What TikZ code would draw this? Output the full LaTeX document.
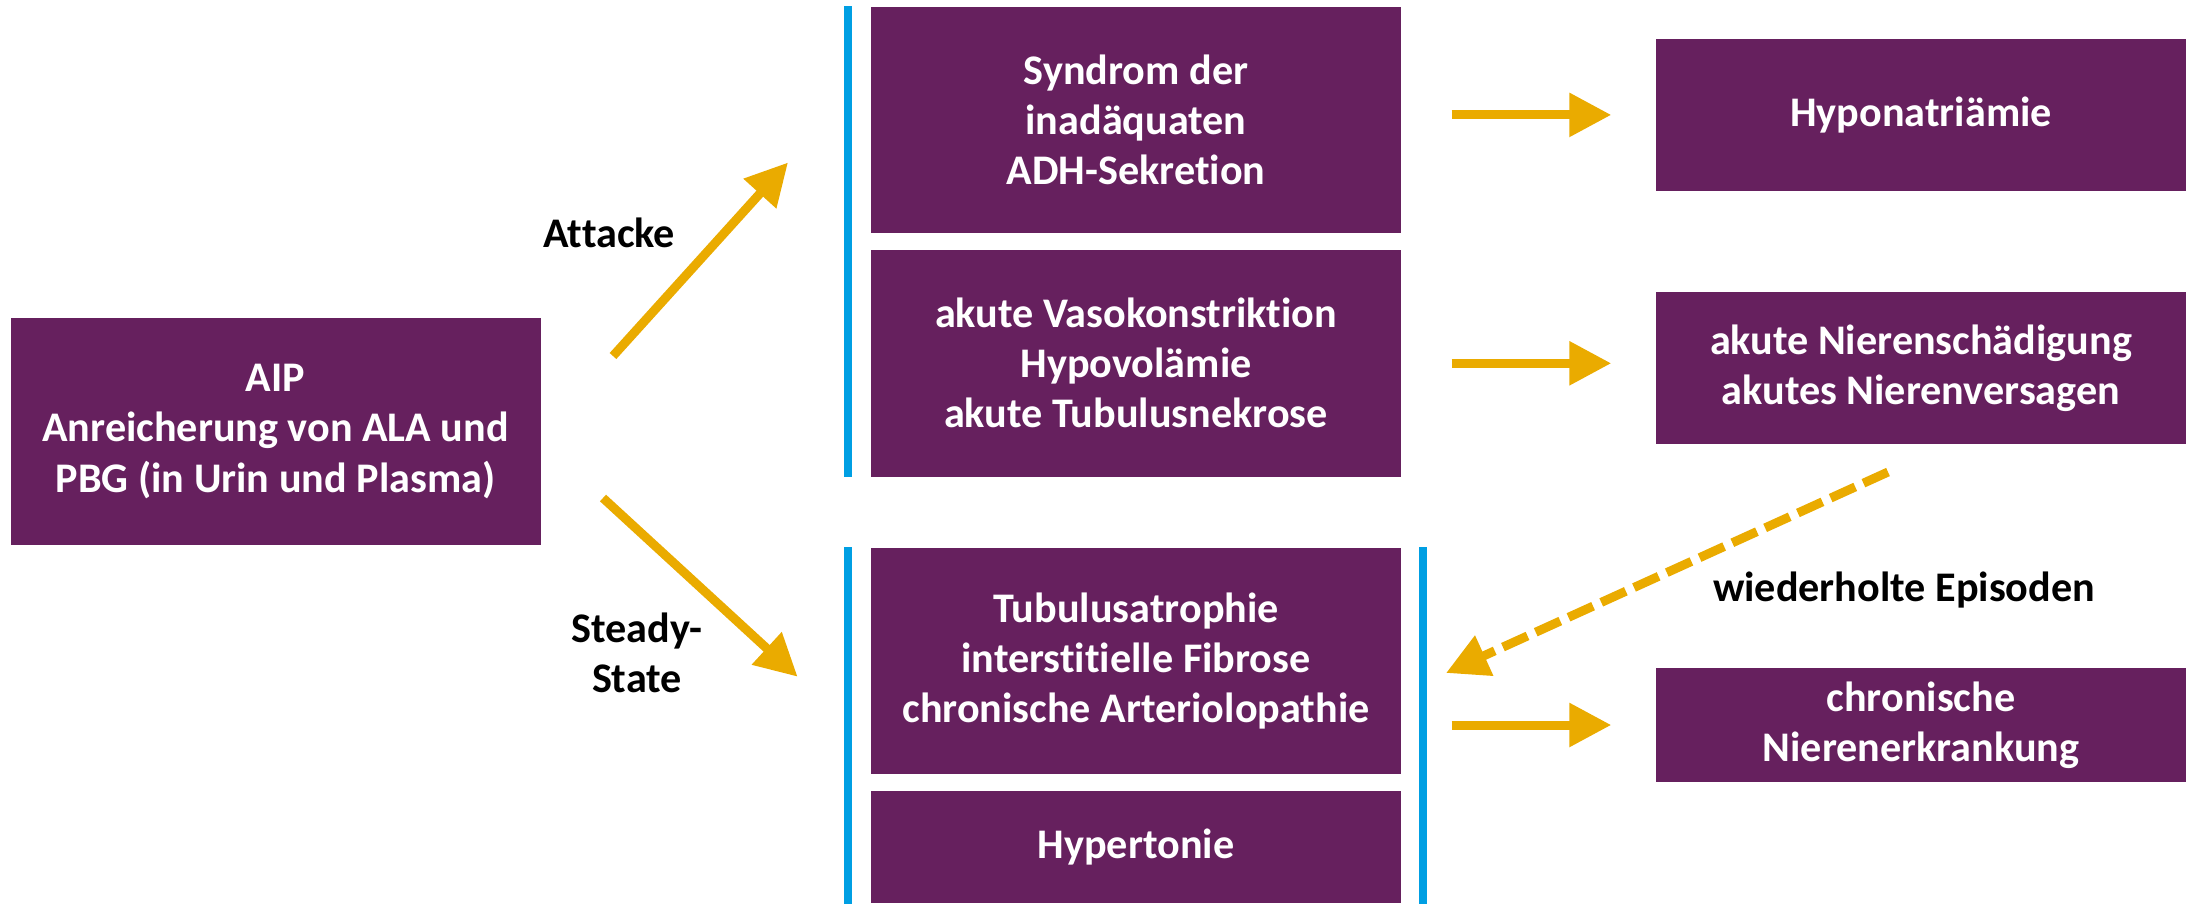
\documentclass[tikz,border=0pt]{standalone}
\usepackage{fontspec}
\setmainfont{Carlito}[Ligatures=NoCommon]
\usetikzlibrary{arrows.meta}
\definecolor{lila}{HTML}{66205E}
\definecolor{gold}{HTML}{EAAB00}
\definecolor{cyan}{HTML}{009FE3}

\begin{document}
\begin{tikzpicture}[font=\fontsize{12}{14.23}\selectfont\bfseries,
 box/.style={fill=lila,text=white,align=center,inner sep=0pt,minimum width=5.3cm},
 lbl/.style={text=black,align=center,inner sep=0pt},
 arr/.style={draw=gold,line width=.09cm,-{Triangle[length=.42cm,width=.42cm]}},
 bar/.style={draw=cyan,line width=.08cm}]
\useasboundingbox (0,0) rectangle (21.93,-9.03);
\node[box,minimum height=2.27cm] (aip) at (2.755,-4.315) {AIP\\Anreicherung von ALA und\\PBG (in Urin und Plasma)};
\node[box,minimum height=2.26cm] (syn) at (11.36,-1.2) {Syndrom der\\inadäquaten\\ADH-Sekretion};
\node[box,minimum height=2.267cm] (vaso) at (11.36,-3.633) {akute Vasokonstriktion\\Hypovolämie\\akute Tubulusnekrose};
\node[box,minimum height=2.26cm] (tub) at (11.36,-6.61) {Tubulusatrophie\\interstitielle Fibrose\\chronische Arteriolopathie};
\node[box,minimum height=1.12cm] (hyp) at (11.36,-8.47) {Hypertonie};
\node[box,minimum height=1.517cm] (hypo) at (19.21,-1.149) {Hyponatriämie};
\node[box,minimum height=1.517cm] (niere) at (19.21,-3.679) {akute Nierenschädigung\\akutes Nierenversagen};
\node[box,minimum height=1.134cm] (chron) at (19.21,-7.25) {chronische\\Nierenerkrankung};
\draw[bar] ([xshift=-.22cm]syn.north west) -- ([xshift=-.22cm]vaso.south west);
\draw[bar] ([xshift=-.22cm]tub.north west) -- ([xshift=-.22cm]hyp.south west);
\draw[bar] ([xshift=.215cm]tub.north east) -- ([xshift=.215cm]hyp.south east);
\coordinate (a1) at (6.13,-3.56);
\coordinate (a2) at (7.88,-1.625);
\coordinate (s1) at (6.03,-4.98);
\coordinate (s2) at (7.976,-6.767);
\coordinate (w1) at (18.88,-4.72);
\coordinate (w2) at (14.46,-6.73);
\draw[arr] (a1) -- (a2);
\draw[arr] (s1) -- (s2);
\draw[arr,dash pattern=on .27cm off .09cm] (w1) -- (w2);
\draw[arr,shorten <=.5cm,shorten >=.44cm] (syn.east |- hypo.west) -- (hypo.west);
\draw[arr,shorten <=.5cm,shorten >=.44cm] (vaso.east) -- (vaso.east -| niere.west);
\draw[arr,shorten <=.5cm,shorten >=.44cm] (tub.east |- chron.west) -- (chron.west);
\node[lbl,anchor=base] (att) at (6.093,-2.473) {Attacke};
\node[lbl] (st) at (6.37,-6.53) {Steady-\\State};
\node[lbl,anchor=base] (wie) at (19.04,-6.017) {wiederholte Episoden};
\end{tikzpicture}
\end{document}
